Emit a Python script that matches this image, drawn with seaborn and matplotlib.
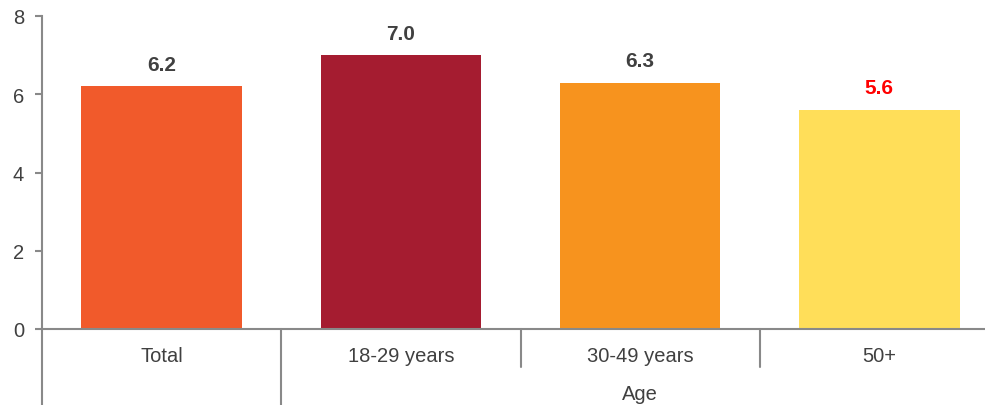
import matplotlib
matplotlib.use("Agg")
import matplotlib.pyplot as plt
import matplotlib.transforms as mtransforms
import seaborn as sns
import pandas as pd

categories = ["Total", "18-29 years", "30-49 years", "50+"]
values = [6.2, 7.0, 6.3, 5.6]
colors = ["#F15A2B", "#A51C30", "#F7931E", "#FFDE59"]
label_colors = ["#404040", "#404040", "#404040", "#FF0000"]
group_label = "Age"
yticks = [0, 2, 4, 6, 8]

sns.set_theme(style="white")
plt.rcParams["font.family"] = ["Liberation Sans", "DejaVu Sans"]

df = pd.DataFrame({"cat": categories, "val": values})

fig = plt.figure(figsize=(9.85, 4.06), dpi=100)
ax = fig.add_axes([42 / 985, 76 / 406, 957 / 985, 313 / 406])

sns.barplot(data=df, x="cat", y="val", hue="cat", palette=colors,
            order=categories, hue_order=categories, legend=False,
            width=0.67, saturation=1, linewidth=0, ax=ax)

ax.set_ylim(0, 8)
ax.set_xlim(-0.5, 3.5)
ax.set_yticks(yticks)
ax.set_yticklabels([str(t) for t in yticks])
ax.set_xlabel("")
ax.set_ylabel("")

grey = "#898989"
for s in ["top", "right"]:
    ax.spines[s].set_visible(False)
ax.spines["left"].set_color(grey)
ax.spines["bottom"].set_color(grey)
ax.spines["left"].set_linewidth(1.5)
ax.spines["bottom"].set_linewidth(1.5)

ax.tick_params(axis="y", direction="out", length=5, width=1.5, color=grey,
               labelsize=14.5, labelcolor="#404040", pad=8, left=True)
ax.tick_params(axis="x", length=0, labelsize=14.5, labelcolor="#404040", pad=12)

# value labels
for i, (v, c) in enumerate(zip(values, label_colors)):
    ax.annotate(f"{v:.1f}", xy=(i, v), xytext=(0, 9), textcoords="offset points",
                ha="center", va="bottom", fontsize=15, fontweight="bold", color=c)

# category separators
trans = mtransforms.blended_transform_factory(ax.transData, ax.transAxes)
ax.plot([-0.5, -0.5], [0, -76 / 313], transform=trans, color=grey, lw=1.5, clip_on=False)
ax.plot([0.5, 0.5], [0, -76 / 313], transform=trans, color=grey, lw=1.5, clip_on=False)
for x in [1.5, 2.5]:
    ax.plot([x, x], [0, -38 / 313], transform=trans, color=grey, lw=1.5, clip_on=False)

ax.text(2.0, -65 / 313, group_label, transform=trans, ha="center", va="center",
        fontsize=14.5, color="#404040")

fig.savefig("out.png", dpi=100)
